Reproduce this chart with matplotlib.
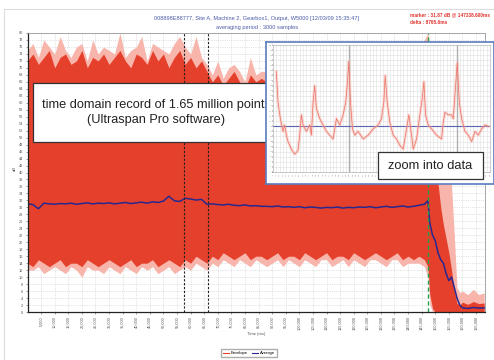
#!/usr/bin/env python3
"""
plot.py -- envelope / average time record of a gearbox output with a zoomed inset.

Writes out.png (494x360 px).
"""
import matplotlib
matplotlib.use("Agg")
import matplotlib.pyplot as plt
from matplotlib.patches import Rectangle
from matplotlib.lines import Line2D

plt.rcParams["font.family"] = ["Liberation Sans", "DejaVu Sans"]

W, H = 494, 360

# ---- main record: envelope (time in ms, levels in dB) ----
env_t = [0, 2000, 4000, 6000, 8000, 10000, 12000, 14000, 16000, 18000,
         20000, 22000, 24000, 26000, 28000, 30000, 32000, 34000, 36000, 38000,
         40000, 42000, 44000, 46000, 48000, 50000, 52000, 54000, 56000,
         58000, 60000, 62000, 64000, 66000,
         68000, 70000, 72000, 74000, 76000, 78000, 80000, 82000, 84000, 86000,
         88000, 90000, 92000, 94000, 96000, 98000, 100000, 102000, 104000, 106000,
         108000, 110000, 112000, 114000, 116000, 118000, 120000, 122000, 124000, 126000,
         128000, 130000, 132000, 134000, 136000, 138000, 140000, 142000, 144000, 146000,
         147300, 148000, 149000, 150000, 151000, 152000, 153000, 154000, 155000,
         156000, 157000, 158000, 159000, 160000, 162000, 164000, 166000, 168000]

env_hi = [72, 74, 71, 73, 75, 70, 73, 74, 71, 72, 75, 70, 73, 72, 74, 71, 73, 75, 72, 70,
          74, 73, 71, 75, 72, 74, 70, 73, 75,
          71, 73, 70, 72, 69,
          66, 68, 65, 67, 69, 66, 64, 68, 66, 67,
          66, 68, 65, 67, 66, 69, 65, 67, 68, 66, 64, 67, 69, 66, 68, 65, 67, 66, 68, 70,
          66, 67, 69, 65, 68, 70, 67, 71, 72, 73,
          72, 60, 46, 40, 37, 30, 25, 21, 17, 12, 6, 2.5, 2.0, 2.8, 2.2, 3.0, 2.4, 2.6]

env_hi_peak = [75, 77, 73, 78, 76, 74, 79, 75, 73, 76, 77, 72, 78, 74, 76, 75, 74, 80, 73, 75,
               76, 79, 72, 77, 76, 75, 74, 77, 79,
               76, 74, 79, 73, 71,
               68, 72, 67, 70, 71, 69, 66, 73, 68, 69,
               69, 71, 67, 70, 68, 72, 67, 69, 71, 68, 66, 70, 72, 68, 70, 67, 70, 68, 71, 73,
               68, 70, 72, 67, 71, 73, 70, 75, 76, 78,
               80, 76, 72, 68, 64, 60, 54, 48, 42, 36, 22, 7, 5.5, 6, 5, 6.5, 5, 5.5]

env_lo = [14, 13, 15, 14, 13, 14, 15, 13, 14, 14, 13, 15, 14, 13, 14, 15, 14, 13, 14, 15,
          13, 14, 14, 15, 13, 14, 15, 14, 13,
          15, 14, 16, 15, 14,
          16, 15, 17, 16, 15, 16, 17, 15, 16, 16,
          15, 16, 17, 15, 16, 16, 15, 17, 16, 15, 16, 17, 15, 16, 16, 15, 17, 16, 15, 16,
          17, 16, 15, 16, 17, 15, 16, 15, 16, 15,
          13, 5, 1, 0, 0, 0, 0, 0, 0, 0, 0, 0, 0, 0, 0, 0, 0, 0]

env_lo_peak = [12, 12, 13, 11, 12, 13, 12, 11, 13, 12, 10, 13, 12, 12, 11, 13, 12, 11, 13, 12,
               11, 13, 12, 13, 11, 12, 13, 11, 12,
               13, 12, 14, 13, 12,
               14, 13, 15, 14, 13, 15, 14, 13, 15, 14,
               13, 14, 15, 13, 15, 14, 13, 15, 14, 13, 15, 15, 13, 14, 15, 13, 15, 14, 13, 15,
               15, 14, 13, 15, 15, 13, 14, 14, 14, 13,
               10, 2, 0, 0, 0, 0, 0, 0, 0, 0, 0, 0, 0, 0, 0, 0, 0, 0]

avg = [31.0, 30.8, 29.6, 31.2, 31.0, 30.9, 31.1, 31.0, 31.2, 30.9, 31.1, 31.3, 31.0, 31.2,
       31.1, 31.3, 31.0, 31.2, 31.4, 31.1, 31.3, 31.5, 31.2, 31.6, 31.4, 31.8, 33.2, 31.9, 31.7,
       32.6, 32.4, 32.1, 32.3, 30.9,
       31.0, 30.8, 30.7, 30.9, 30.6, 30.5, 30.7, 30.4, 30.5, 30.3,
       30.3, 30.2, 30.4, 30.1, 30.2, 30.0, 30.2, 29.9, 30.1, 30.0, 29.8, 30.0, 29.9, 30.1,
       29.8, 30.0, 29.9, 30.1, 30.0, 30.2, 29.9, 30.1, 30.3, 30.0, 30.2, 30.4, 30.1, 30.3,
       30.6, 30.9,
       31.9, 25.5, 22, 20.5, 17, 15, 14, 11, 9, 10, 7, 4, 2, 1.2, 1.0, 1.3, 1.1, 1.2]

x_ticks = [5000 * k for k in range(1, 34)]
y_ticks = list(range(0, 82, 2))
delta_lines = [57600, 66365.6]
marker_t = 147338.6

# ---- inset (zoom into data) ----
zoom_t = [10, 15, 22, 30, 35, 40, 45, 55, 65, 75, 80, 85, 90, 100, 110, 115, 120, 125, 130,
          140, 150, 160, 170, 180, 190, 200, 210, 218, 223, 227, 232, 238, 245, 255, 270,
          285, 300, 315, 325, 332, 336, 342, 350, 360, 370, 380, 390, 400, 407, 415, 420,
          430, 440, 447, 452, 457, 465, 475, 490, 505, 510, 515, 525, 535, 540, 547, 552,
          558, 565, 575, 585, 595, 605, 615, 625, 635, 645]
zoom_v = [79, 55, 42, 32, 37, 29, 24, 18, 14, 17, 29, 45, 37, 32, 37, 29, 55, 68, 50,
          42, 37, 32, 29, 26, 42, 37, 45, 55, 71, 87, 55, 34, 29, 32, 26,
          29, 34, 37, 42, 55, 76, 55, 39, 29, 26, 21, 18, 34, 45, 29, 18,
          26, 45, 58, 71, 45, 37, 34, 29, 26, 39, 47, 45, 45, 42, 68, 86,
          55, 42, 32, 29, 24, 32, 29, 34, 37, 36]
zoom_avg = 36
zoom_marks = [227, 552]

RED = "#e5402b"
PINK = "#f7b5ab"
NAVY = "#28288f"
GRID = "#c9c9c9"


def fig_box(x0, y0, x1, y1):
    """pixel box (top-left origin) -> figure-fraction rect"""
    return [x0 / W, 1 - y1 / H, (x1 - x0) / W, (y1 - y0) / H]


def draw_main(fig):
    ax = fig.add_axes(fig_box(27.5, 33, 485, 312))
    ax.fill_between(env_t, env_lo_peak, env_hi_peak, color=PINK, lw=0)
    ax.fill_between(env_t, env_lo, env_hi, color=RED, lw=0)
    ax.plot(env_t, avg, color=NAVY, lw=1.1)

    for t in delta_lines:
        ax.axvline(t, color="#222222", lw=0.8, ls=(0, (2, 1.5)))
    ax.axvline(marker_t, color="#22a04a", lw=1.0, ls=(0, (3, 2)))

    ax.set_xlim(0, 168300)
    ax.set_ylim(0, 80)
    ax.set_xticks(x_ticks)
    ax.set_xticklabels([f"{v:,}" for v in x_ticks], rotation=90, fontsize=2.8,
                       color="#555555")
    ax.set_yticks(y_ticks)
    ax.set_yticklabels([str(v) for v in y_ticks], fontsize=2.8, color="#555555")
    ax.tick_params(length=1.5, width=0.4, pad=1.5, colors="#555555")
    ax.grid(True, color=GRID, lw=0.5, ls=":")
    ax.set_axisbelow(True)
    for side in ("top", "right"):
        ax.spines[side].set_color("#999999")
        ax.spines[side].set_linewidth(0.6)
    for side in ("left", "bottom"):
        ax.spines[side].set_color("#222222")
        ax.spines[side].set_linewidth(0.9)
    return ax


def draw_inset(fig):
    frame = fig.add_axes(fig_box(266, 42, 494, 184), zorder=5)
    frame.set_xticks([])
    frame.set_yticks([])
    for sp in frame.spines.values():
        sp.set_color("#5a7cc0")
        sp.set_linewidth(1.2)

    ax = fig.add_axes(fig_box(273, 45, 490, 172), zorder=6)
    ax.set_xlim(0, 650)
    ax.set_ylim(0, 100)
    for t in zoom_marks:
        ax.axvline(t, color="#b0b0b0", lw=1.0)
    ax.axhline(zoom_avg, color="#5b62b0", lw=0.8)
    ax.plot(zoom_t, zoom_v, color=PINK, lw=2.2, alpha=0.45)
    ax.plot(zoom_t, zoom_v, color="#ee6f62", lw=0.5)
    ax.set_xticks(range(0, 651, 10))
    ax.set_xticklabels([str(v) for v in range(0, 651, 10)], rotation=90, fontsize=1.2,
                       color="#888888")
    ax.set_yticks(range(0, 101, 4))
    ax.set_yticklabels([str(v) for v in range(0, 101, 4)], fontsize=1.2, color="#888888")
    ax.tick_params(length=0.8, width=0.3, pad=0.5)
    ax.grid(True, color="#e0e0e0", lw=0.4)
    ax.set_axisbelow(True)
    for sp in ax.spines.values():
        sp.set_color("#bbbbbb")
        sp.set_linewidth(0.5)

    # "zoom into data" callout sits on top of the inset
    fig.patches.append(Rectangle((378 / W, 1 - 179 / H), 105 / W, 27 / H,
                                 transform=fig.transFigure, facecolor="white",
                                 edgecolor="#333333", lw=0.9, zorder=7))
    fig.text(430.5 / W, 1 - 166 / H, "zoom into data", ha="center", va="center",
             fontsize=9.3, color="#222222", zorder=8)


def main():
    fig = plt.figure(figsize=(W / 100, H / 100), dpi=100)

    fig.patches.append(Rectangle((4 / W, 0), 1, 1 - 9 / H, transform=fig.transFigure,
                                 facecolor="none", edgecolor="#dddddd", lw=0.8, zorder=0))

    draw_main(fig)

    # title block
    fig.text(257 / W, 1 - 18.5 / H,
             "008898E88777, Site A, Machine 2, Gearbox1, Output, W5000 [12/03/09 15:35:47]",
             ha="center", va="center", fontsize=4.1, color="#4a5aa8")
    fig.text(257 / W, 1 - 27 / H, "averaging period : 3000 samples",
             ha="center", va="center", fontsize=4.1, color="#4a5aa8")
    fig.text(410 / W, 1 - 15 / H, "marker : 31.87 dB @ 147338.600ms", ha="left",
             va="center", fontsize=3.4, color="#e0322a", fontweight="bold")
    fig.text(410 / W, 1 - 22.5 / H, "delta : 8765.6ms", ha="left", va="center",
             fontsize=3.4, color="#e0322a", fontweight="bold")
    fig.text(15 / W, 1 - 168 / H, "dB", rotation=90, ha="center", va="center",
             fontsize=3, color="#555555")
    fig.text(256 / W, 1 - 334 / H, "Time (ms)", ha="center", va="center",
             fontsize=3, color="#555555")

    # callout over the record
    fig.patches.append(Rectangle((33 / W, 1 - 142 / H), 250 / W, 59 / H,
                                 transform=fig.transFigure, facecolor="white",
                                 edgecolor="#333333", lw=0.9, zorder=2))
    fig.text(156 / W, 1 - 112.5 / H,
             "time domain record of 1.65 million points\n(Ultraspan Pro software)",
             ha="center", va="center", fontsize=9.2, linespacing=1.35,
             color="#222222", zorder=3)

    draw_inset(fig)

    handles = [Line2D([], [], color=RED, lw=0.8), Line2D([], [], color=NAVY, lw=0.8)]
    fig.legend(handles, ["Envelope", "Average"], loc="center",
               bbox_to_anchor=(249 / W, 1 - 353 / H), ncol=2, fontsize=3,
               frameon=True, fancybox=False, edgecolor="#999999", handlelength=1.5,
               borderpad=0.4, columnspacing=1.0, handletextpad=0.4)

    fig.savefig("out.png", dpi=100)
    plt.close(fig)


if __name__ == "__main__":
    main()
